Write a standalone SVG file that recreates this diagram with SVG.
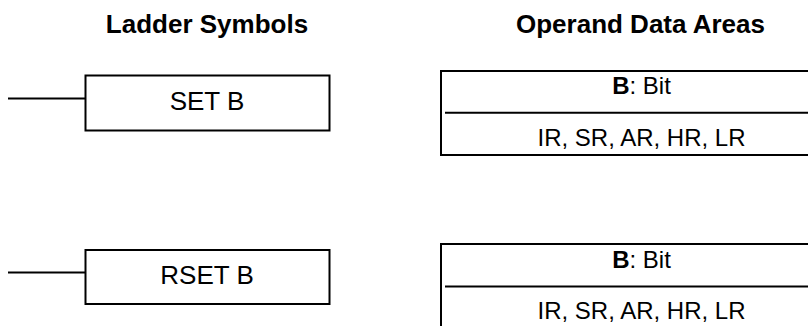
<svg xmlns="http://www.w3.org/2000/svg" width="808" height="326" viewBox="0 0 808 326">
<style>
.ln{fill:none;stroke:#000;stroke-width:2}
.t{font-family:"Liberation Sans",Arial,sans-serif;fill:#000;text-anchor:middle}
.h{font-size:26px;font-weight:bold}
.s{font-size:26px}
.d{font-size:24px}
</style>
<rect width="808" height="326" fill="#fff"/>
<g id="titles">
<text class="t h" x="207" y="33">Ladder Symbols</text>
<text class="t h" x="640.5" y="33">Operand Data Areas</text>
</g>
<g id="connectors">
<path class="ln" d="M8 98.5H85.5"/>
<path class="ln" d="M8 272.5H85.5"/>
</g>
<g id="set">
<rect class="ln" x="85.5" y="75.5" width="244" height="55"/>
<text class="t s" x="207" y="109.5">SET B</text>
</g>
<g id="rset">
<rect class="ln" x="85.5" y="250" width="244" height="54"/>
<text class="t s" x="207" y="284">RSET B</text>
</g>
<g id="set-operands">
<path class="ln" d="M812 71H441V155H812"/>
<path class="ln" d="M445 112.7H812"/>
<text class="t d" x="641.5" y="94"><tspan font-weight="bold">B</tspan>: Bit</text>
<text class="t d" x="641.5" y="145.5">IR, SR, AR, HR, LR</text>
</g>
<g id="rset-operands">
<path class="ln" d="M812 244H441V330"/>
<path class="ln" d="M445 286.5H812"/>
<text class="t d" x="641.5" y="268"><tspan font-weight="bold">B</tspan>: Bit</text>
<text class="t d" x="641.5" y="319">IR, SR, AR, HR, LR</text>
</g>
</svg>
